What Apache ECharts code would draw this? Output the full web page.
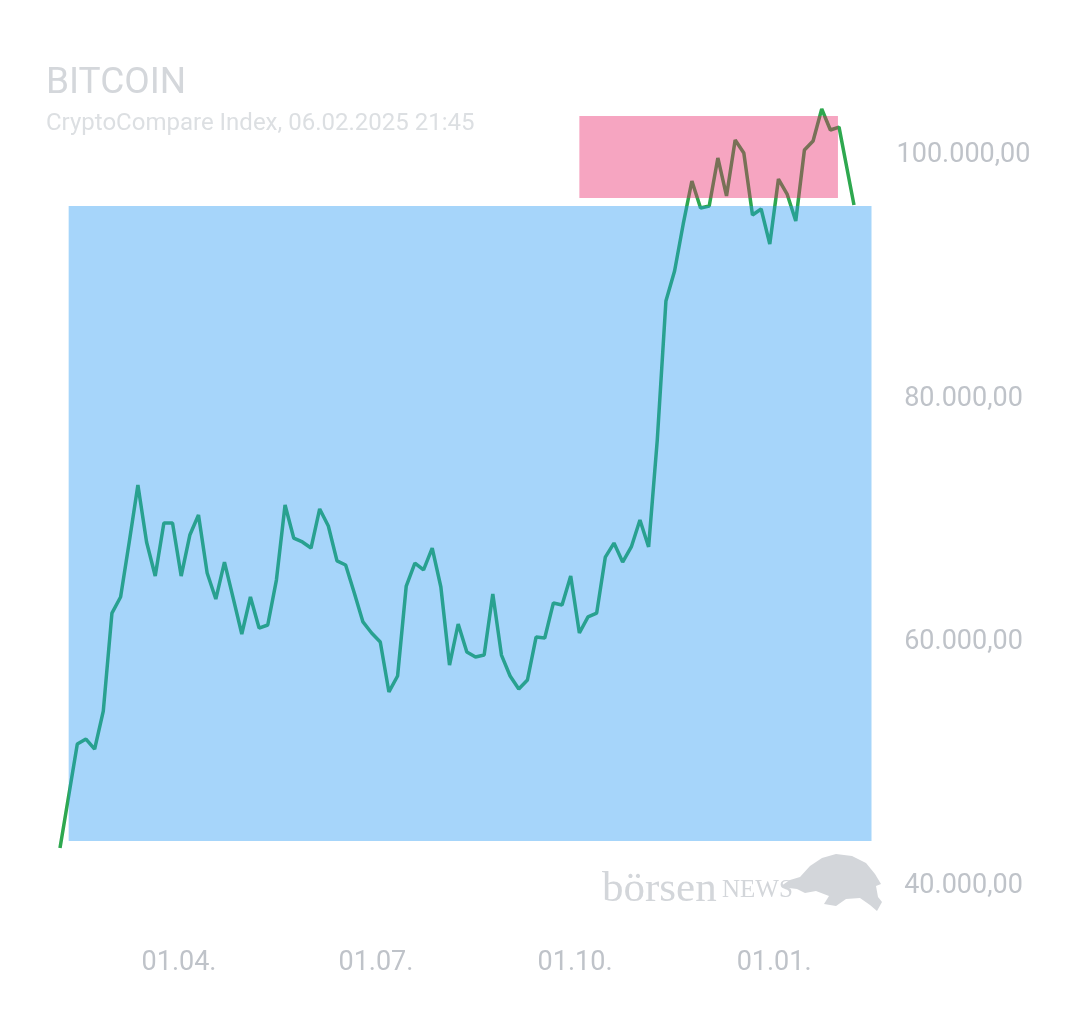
<!DOCTYPE html>
<html>
<head>
<meta charset="utf-8">
<script src="https://cdn.jsdelivr.net/npm/echarts@6/dist/echarts.min.js"></script>
<style>
  html, body { margin: 0; padding: 0; background: #fff; }
  #chart { width: 1080px; height: 1013px; }
</style>
</head>
<body>
<div id="chart"></div>
<script>
// BTC price, sampled every 4 days (last point = current quote)
const dates = [
  '2024-02-06', '2024-02-14', '2024-02-18', '2024-02-22', '2024-02-26',
  '2024-03-01', '2024-03-05', '2024-03-09', '2024-03-13', '2024-03-17',
  '2024-03-21', '2024-03-25', '2024-03-29', '2024-04-02', '2024-04-06',
  '2024-04-10', '2024-04-14', '2024-04-18', '2024-04-22', '2024-04-26',
  '2024-04-30', '2024-05-04', '2024-05-08', '2024-05-12', '2024-05-16',
  '2024-05-20', '2024-05-24', '2024-05-28', '2024-06-01', '2024-06-05',
  '2024-06-09', '2024-06-13', '2024-06-17', '2024-06-21', '2024-06-25',
  '2024-06-29', '2024-07-03', '2024-07-07', '2024-07-11', '2024-07-15',
  '2024-07-19', '2024-07-23', '2024-07-27', '2024-07-31', '2024-08-04',
  '2024-08-08', '2024-08-12', '2024-08-16', '2024-08-20', '2024-08-24',
  '2024-08-28', '2024-09-01', '2024-09-05', '2024-09-09', '2024-09-13',
  '2024-09-17', '2024-09-21', '2024-09-25', '2024-09-29', '2024-10-03',
  '2024-10-07', '2024-10-11', '2024-10-15', '2024-10-19', '2024-10-23',
  '2024-10-27', '2024-10-31', '2024-11-04', '2024-11-08', '2024-11-12',
  '2024-11-16', '2024-11-20', '2024-11-24', '2024-11-28', '2024-12-02',
  '2024-12-06', '2024-12-10', '2024-12-14', '2024-12-18', '2024-12-22',
  '2024-12-26', '2024-12-30', '2025-01-03', '2025-01-07', '2025-01-11',
  '2025-01-15', '2025-01-19', '2025-01-23', '2025-01-27', '2025-01-31',
  '2025-02-06 21:45'
];
const prices = [
  43120, 51660, 52070, 51250, 54370,
  62420, 63740, 68260, 72940, 68260,
  65460, 69820, 69820, 65460, 68830,
  70470, 65710, 63570, 66610, 63660,
  60700, 63740, 61190, 61440, 65130,
  71300, 68580, 68260, 67760, 70970,
  69570, 66700, 66370, 64070, 61690,
  60780, 60040, 55940, 57250, 64640,
  66530, 65960, 67760, 64560, 58150,
  61520, 59220, 58810, 58970, 63990,
  58970, 57250, 56180, 56920, 60450,
  60370, 63250, 63080, 65460, 60780,
  62100, 62420, 67020, 68170, 66610,
  67850, 70060, 67850, 76630, 88050,
  90520, 94380, 97910, 95690, 95860,
  99800, 96680, 101280, 100210, 95120,
  95610, 92730, 98070, 96840, 94620,
  100460, 101190, 103820, 102100, 102340,
  95940
];

// highlighted ranges: from date, to date, low, high
const rangeFrom = ['2024-02-10', '2024-10-03'];
const rangeTo = ['2025-02-15', '2025-01-30 12:00'];
const rangeLow = [43700, 96510];
const rangeHigh = [95850, 103250];
const rangeColors = ['rgba(33,150,243,0.4)', 'rgba(233,30,99,0.4)'];

const quarterTicks = ['2024-04-01', '2024-07-01', '2024-10-01', '2025-01-01'];
const yTicks = [40000, 60000, 80000, 100000];

function toTime(s) {
  const p = s.split(/[- :]/).map(Number);
  return new Date(p[0], p[1] - 1, p[2], p[3] || 0, p[4] || 0).getTime();
}
function pad(n) { return (n < 10 ? '0' : '') + n; }

const chart = echarts.init(document.getElementById('chart'));

chart.setOption({
  backgroundColor: '#ffffff',
  animation: false,
  title: {
    text: 'BITCOIN',
    subtext: 'CryptoCompare Index, 06.02.2025 21:45',
    left: 46,
    top: 65,
    itemGap: 10,
    padding: 0,
    textStyle: { fontFamily: 'Roboto', fontSize: 37, fontWeight: 'normal', color: '#d4d7db' },
    subtextStyle: { fontFamily: 'Roboto', fontSize: 24, color: '#dcdfe2' }
  },
  grid: { left: 60, right: 208.5, top: 82.5, bottom: 127 },
  xAxis: {
    type: 'value',
    min: toTime('2024-02-06'),
    max: toTime('2025-02-15'),
    axisLine: { show: false },
    axisTick: { show: false },
    splitLine: { show: false },
    axisLabel: {
      customValues: quarterTicks.map(toTime),
      margin: 64,
      fontFamily: 'Roboto',
      fontSize: 27,
      color: '#bfc3c9',
      formatter: function (v) {
        const d = new Date(v);
        return pad(d.getDate()) + '.' + pad(d.getMonth() + 1) + '.';
      }
    }
  },
  yAxis: {
    type: 'value',
    position: 'right',
    min: 40000,
    max: 106000,
    interval: 20000,
    axisLine: { show: false },
    axisTick: { show: false },
    splitLine: { show: false },
    axisLabel: {
      margin: 92,
      align: 'center',
      fontFamily: 'Roboto',
      fontSize: 27,
      color: '#bfc3c9',
      formatter: function (v) {
        return yTicks.indexOf(v) >= 0 ? (v / 1000) + '.000,00' : '';
      }
    }
  },
  graphic: [
    {
      type: 'text', left: 602, top: 868, silent: true,
      style: {
        text: 'börsen', fontFamily: 'Liberation Serif', fontSize: 43, fill: '#d3d6da'
      }
    },
    {
      type: 'text', left: 722, top: 878, silent: true,
      style: {
        text: 'NEWS', fontFamily: 'Liberation Serif', fontSize: 25, fill: '#d3d6da'
      }
    },
    {
      type: 'polygon', silent: true,
      shape: {
        points: [
          [781, 886], [790, 880], [800, 877], [810, 866], [822, 858], [836, 854],
          [852, 856], [866, 863], [875, 874], [881, 884], [876, 886], [878, 897],
          [882, 902], [877, 911], [870, 905], [860, 898], [846, 899], [836, 906],
          [824, 904], [829, 896], [816, 891], [805, 893], [797, 889], [789, 888]
        ]
      },
      style: { fill: '#d3d6da' }
    }
  ],
  series: [
    {
      type: 'line',
      z: 2,
      data: dates.map((d, i) => [toTime(d), prices[i]]),
      showSymbol: false,
      symbol: 'none',
      lineStyle: { color: '#2ea84f', width: 3.5 },
      silent: true
    },
    {
      // translucent highlight boxes, drawn above the price line
      type: 'custom',
      z: 10,
      silent: true,
      clip: false,
      encode: { x: [0, 1], y: [2, 3] },
      data: rangeFrom.map((f, i) => [toTime(f), toTime(rangeTo[i]), rangeLow[i], rangeHigh[i]]),
      renderItem: function (params, api) {
        const a = api.coord([api.value(0), api.value(3)]);
        const b = api.coord([api.value(1), api.value(2)]);
        return {
          type: 'rect',
          shape: { x: a[0], y: a[1], width: b[0] - a[0], height: b[1] - a[1] },
          style: { fill: rangeColors[params.dataIndex] }
        };
      }
    }
  ]
});
</script>
</body>
</html>
